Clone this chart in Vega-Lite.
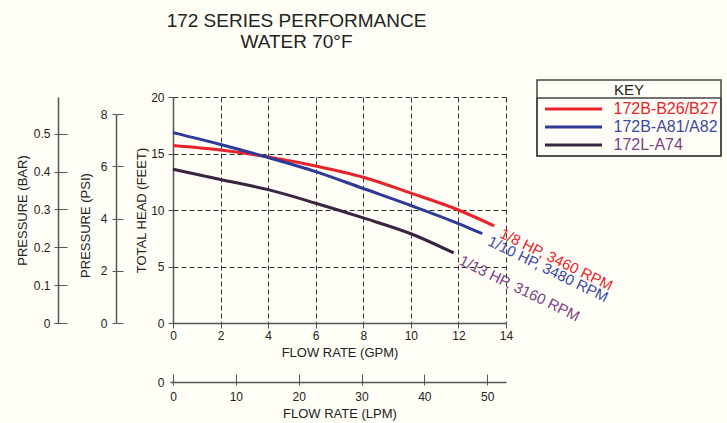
{
  "$schema": "https://vega.github.io/schema/vega-lite/v6.json",
  "width": 333,
  "height": 226,
  "autosize": {"type": "none"},
  "padding": {"left": 173, "top": 97, "right": 221, "bottom": 100},
  "background": "#fefef6",
  "title": {
    "text": ["172 SERIES PERFORMANCE", "WATER 70°F"],
    "font": "Liberation Sans",
    "fontSize": 19,
    "fontWeight": "normal",
    "color": "#222222",
    "anchor": "middle",
    "dx": -43,
    "offset": 27,
    "lineHeight": 21
  },
  "datasets": {
    "curves": [
      {"model": "172B-B26/B27", "gpm": 0, "head": 15.7},
      {"model": "172B-B26/B27", "gpm": 2, "head": 15.3},
      {"model": "172B-B26/B27", "gpm": 4, "head": 14.7},
      {"model": "172B-B26/B27", "gpm": 6, "head": 13.9},
      {"model": "172B-B26/B27", "gpm": 8, "head": 12.9},
      {"model": "172B-B26/B27", "gpm": 10, "head": 11.5},
      {"model": "172B-B26/B27", "gpm": 12, "head": 10.0},
      {"model": "172B-B26/B27", "gpm": 13.5, "head": 8.6},
      {"model": "172B-A81/A82", "gpm": 0, "head": 16.85},
      {"model": "172B-A81/A82", "gpm": 2, "head": 15.8},
      {"model": "172B-A81/A82", "gpm": 4, "head": 14.65},
      {"model": "172B-A81/A82", "gpm": 6, "head": 13.4},
      {"model": "172B-A81/A82", "gpm": 8, "head": 11.9},
      {"model": "172B-A81/A82", "gpm": 10, "head": 10.4},
      {"model": "172B-A81/A82", "gpm": 12, "head": 8.8},
      {"model": "172B-A81/A82", "gpm": 13, "head": 7.9},
      {"model": "172L-A74", "gpm": 0, "head": 13.6},
      {"model": "172L-A74", "gpm": 2, "head": 12.7},
      {"model": "172L-A74", "gpm": 4, "head": 11.8},
      {"model": "172L-A74", "gpm": 6, "head": 10.6},
      {"model": "172L-A74", "gpm": 8, "head": 9.3},
      {"model": "172L-A74", "gpm": 10, "head": 7.9},
      {"model": "172L-A74", "gpm": 11.8, "head": 6.2}
    ],
    "ratings": [
      {"model": "172B-B26/B27", "rating": "1/8 HP, 3460 RPM"},
      {"model": "172B-A81/A82", "rating": "1/10 HP, 3480 RPM"},
      {"model": "172L-A74", "rating": "1/13 HP, 3160 RPM"}
    ],
    "lpm": [{"lpm": 0}, {"lpm": 50}],
    "psi": [{"psi": 0}, {"psi": 8}],
    "bar": [{"bar": 0}, {"bar": 0.5}]
  },
  "resolve": {"scale": {"x": "independent", "y": "independent", "color": "independent"}},
  "layer": [
    {
      "data": {"name": "curves"},
      "mark": {"type": "line", "interpolate": "monotone", "strokeWidth": 3},
      "encoding": {
        "x": {
          "field": "gpm", "type": "quantitative",
          "scale": {"domain": [0, 14], "nice": false},
          "axis": {
            "title": "FLOW RATE (GPM)", "values": [0, 2, 4, 6, 8, 10, 12, 14],
            "grid": true, "gridColor": "#333333", "gridDash": [5, 3], "gridWidth": 1, "gridOpacity": 1,
            "domainColor": "#555555", "domainWidth": 1.5, "tickColor": "#555555", "tickSize": 5,
            "labelFlush": false, "labelOverlap": false, "labelPadding": 2, "labelFontSize": 12,
            "labelFont": "Liberation Sans", "labelColor": "#222222",
            "titlePadding": 5, "titleFontSize": 13, "titleFontWeight": "normal", "titleFont": "Liberation Sans", "titleColor": "#222222"
          }
        },
        "y": {
          "field": "head", "type": "quantitative",
          "scale": {"domain": [0, 20], "nice": false},
          "axis": {
            "title": "TOTAL HEAD (FEET)", "values": [0, 5, 10, 15, 20],
            "grid": true, "gridColor": "#333333", "gridDash": [5, 3], "gridWidth": 1, "gridOpacity": 1,
            "domainColor": "#555555", "domainWidth": 1.5, "tickColor": "#555555", "tickSize": 5,
            "labelPadding": 4, "labelFontSize": 12, "labelFont": "Liberation Sans", "labelColor": "#222222",
            "titlePadding": 2, "titleFontSize": 13, "titleFontWeight": "normal", "titleFont": "Liberation Sans", "titleColor": "#222222"
          }
        },
        "color": {
          "field": "model", "type": "nominal",
          "scale": {"domain": ["172B-B26/B27", "172B-A81/A82", "172L-A74"], "range": ["#e8232b", "#2f3a98", "#3a2440"]},
          "legend": {
            "title": "KEY", "orient": "none", "legendX": 364, "legendY": -17,
            "strokeColor": "#444444", "padding": 3,
            "titleAnchor": "middle", "titleFontSize": 15, "titleFontWeight": "normal", "titleFont": "Liberation Sans", "titleColor": "#222222", "titlePadding": 3,
            "symbolType": "M-57,0H57", "symbolSize": 1, "symbolStrokeWidth": 3, "symbolOffset": 25.5,
            "labelOffset": 32, "labelFontSize": 16, "labelFont": "Liberation Sans", "rowPadding": 2,
            "encode": {
              "legend": {"update": {"strokeWidth": {"value": 1.5}}},
              "labels": {"update": {"fill": {"signal": "datum.value === '172B-B26/B27' ? '#e8232b' : datum.value === '172B-A81/A82' ? '#3c48a8' : '#7a3e88'"}}}
            }
          }
        }
      }
    },
    {
      "data": {"name": "curves"},
      "transform": [
        {"joinaggregate": [{"op": "max", "field": "gpm", "as": "end"}], "groupby": ["model"]},
        {"filter": "datum.gpm === datum.end"},
        {"lookup": "model", "from": {"data": {"name": "ratings"}, "key": "model", "fields": ["rating"]}}
      ],
      "mark": {"type": "text", "angle": 26, "align": "left", "baseline": "middle", "dx": 9, "dy": 3, "fontSize": 15, "font": "Liberation Sans"},
      "encoding": {
        "x": {"field": "gpm", "type": "quantitative", "scale": {"domain": [0, 14], "nice": false}, "axis": null},
        "y": {"field": "head", "type": "quantitative", "scale": {"domain": [0, 20], "nice": false}, "axis": null},
        "text": {"field": "rating"},
        "color": {
          "field": "model", "type": "nominal",
          "scale": {"domain": ["172B-B26/B27", "172B-A81/A82", "172L-A74"], "range": ["#e8232b", "#3c48a8", "#7a3e88"]},
          "legend": {
            "title": null, "orient": "none", "legendX": 364, "legendY": 1,
            "strokeColor": "#444444", "padding": 3,
            "symbolType": "M-57,0H57", "symbolSize": 1, "symbolStrokeWidth": 3, "symbolOffset": 25.5, "symbolOpacity": 0,
            "labelOffset": 32, "labelFontSize": 16, "labelFont": "Liberation Sans", "labelOpacity": 0, "rowPadding": 2,
            "encode": {"legend": {"update": {"strokeWidth": {"value": 1.5}}}}
          }
        }
      }
    },
    {
      "data": {"name": "lpm"},
      "mark": {"type": "point", "opacity": 0},
      "encoding": {
        "x": {
          "field": "lpm", "type": "quantitative",
          "scale": {"domain": [0, 52.996], "nice": false},
          "axis": {
            "orient": "bottom", "offset": 59, "title": "FLOW RATE (LPM)", "values": [0, 10, 20, 30, 40, 50],
            "grid": false, "domainColor": "#555555", "domainWidth": 1.5, "tickColor": "#555555", "tickSize": 3,
            "labelFlush": false, "labelOverlap": false, "labelPadding": 6, "labelFontSize": 12,
            "labelFont": "Liberation Sans", "labelColor": "#222222",
            "titlePadding": 5, "titleFontSize": 13, "titleFontWeight": "normal", "titleFont": "Liberation Sans", "titleColor": "#222222"
          }
        }
      }
    },
    {
      "data": {"name": "lpm"},
      "mark": {"type": "point", "opacity": 0},
      "encoding": {
        "x": {
          "field": "lpm", "type": "quantitative",
          "scale": {"domain": [0, 52.996], "nice": false},
          "axis": {
            "orient": "top", "offset": -285, "title": null, "values": [0, 10, 20, 30, 40, 50],
            "grid": false, "domain": false, "labels": false, "tickColor": "#555555", "tickSize": 8
          }
        },
        "y": {
          "field": "lpm", "type": "quantitative",
          "scale": {"domain": [0, 52.996], "nice": false, "range": [285, 285]},
          "axis": {
            "orient": "left", "title": null, "values": [0], "grid": false, "domain": false,
            "tickColor": "#555555", "tickSize": 3, "tickWidth": 1.5, "labelPadding": 6, "labelFontSize": 12,
            "labelFont": "Liberation Sans", "labelColor": "#222222"
          }
        }
      }
    },
    {
      "data": {"name": "psi"},
      "mark": {"type": "point", "opacity": 0},
      "encoding": {
        "y": {
          "field": "psi", "type": "quantitative",
          "scale": {"domain": [0, 8], "nice": false, "range": [226, 17.2]},
          "axis": {
            "orient": "left", "offset": 57, "title": "PRESSURE (PSI)", "values": [0, 2, 4, 6, 8],
            "grid": false, "domainColor": "#555555", "domainWidth": 1.5, "tickColor": "#555555", "tickSize": 4,
            "labelPadding": 5, "labelFontSize": 12, "labelFont": "Liberation Sans", "labelColor": "#222222",
            "titlePadding": 8, "titleY": 128, "titleFontSize": 13, "titleFontWeight": "normal", "titleFont": "Liberation Sans", "titleColor": "#222222"
          }
        }
      }
    },
    {
      "data": {"name": "psi"},
      "mark": {"type": "point", "opacity": 0},
      "encoding": {
        "y": {
          "field": "psi", "type": "quantitative",
          "scale": {"domain": [0, 8], "nice": false, "range": [226, 17.2]},
          "axis": {
            "orient": "right", "offset": -390, "title": null, "values": [0, 2, 4, 6, 8],
            "grid": false, "domain": false, "labels": false, "tickColor": "#555555", "tickSize": 7
          }
        }
      }
    },
    {
      "data": {"name": "bar"},
      "mark": {"type": "point", "opacity": 0},
      "encoding": {
        "y": {
          "field": "bar", "type": "quantitative",
          "scale": {"domain": [0, 0.5968], "nice": false},
          "axis": {
            "orient": "left", "offset": 115, "title": "PRESSURE (BAR)", "values": [0, 0.1, 0.2, 0.3, 0.4, 0.5], "format": ".1~f",
            "grid": false, "domainColor": "#555555", "domainWidth": 1.5, "tickColor": "#555555", "tickSize": 4,
            "labelPadding": 4, "labelFontSize": 12, "labelFont": "Liberation Sans", "labelColor": "#222222",
            "titlePadding": 4, "titleFontSize": 13, "titleFontWeight": "normal", "titleFont": "Liberation Sans", "titleColor": "#222222"
          }
        }
      }
    },
    {
      "data": {"name": "bar"},
      "mark": {"type": "point", "opacity": 0},
      "encoding": {
        "y": {
          "field": "bar", "type": "quantitative",
          "scale": {"domain": [0, 0.5968], "nice": false},
          "axis": {
            "orient": "right", "offset": -448, "title": null, "values": [0, 0.1, 0.2, 0.3, 0.4, 0.5],
            "grid": false, "domain": false, "labels": false, "tickColor": "#555555", "tickSize": 9
          }
        }
      }
    }
  ],
  "config": {"view": {"stroke": null}}
}
